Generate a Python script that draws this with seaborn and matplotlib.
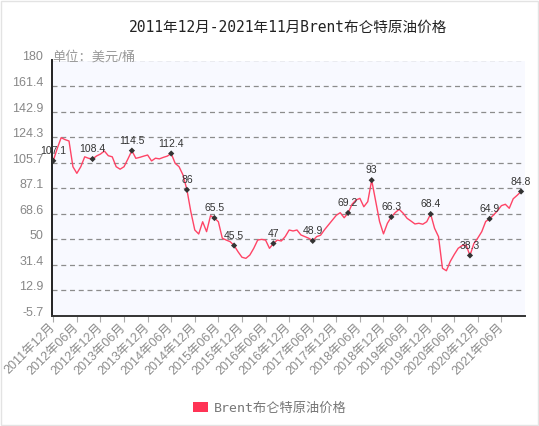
import matplotlib
matplotlib.use("Agg")
import matplotlib.pyplot as plt
from matplotlib.patches import Patch, Rectangle
import numpy as np
import pandas as pd
import seaborn as sns

# %% datos (mensual, 2011-12 .. 2021-11)
precio = [107.1, 116, 123.9, 122.5, 121.5, 102.8, 98, 102.8, 110, 108.9,
          108.4, 110.6, 112, 114.2, 110.8, 110, 102.8, 101, 102.8, 108.5,
          114.5, 108.9, 109.6, 110.5, 111.3, 107, 109, 108.5, 109.6, 110.5,
          112.4, 105.3, 102.8, 96.8, 86, 70, 56.8, 53.9, 62.8, 55.6,
          67.2, 65.5, 62.8, 50.8, 49.5, 48.3, 45.5, 41, 37, 36.2,
          38.6, 43.5, 49.5, 50, 49.5, 43.5, 47, 49.5, 48.8, 52,
          56.8, 56.1, 56.8, 53.2, 52, 50.8, 48.9, 52, 53, 57,
          60.5, 64, 67.5, 69.4, 65.7, 69.2, 75.5, 78.6, 79.8, 73.7,
          77.4, 93, 78, 63, 54, 61.7, 66.3, 69.5, 71.8, 69,
          65.3, 63.3, 61.2, 61.7, 61, 62.8, 68.4, 58, 52, 29,
          27.2, 34, 39, 43.5, 45.5, 45.9, 38.3, 47, 51, 55.6,
          63, 64.9, 67.7, 70.8, 74.5, 75.5, 72.6, 79.5, 82, 84.8]

meses = pd.date_range("2011-12-01", periods=len(precio), freq="MS")
etiquetas_x = [f"{m.year}年{m.month:02d}月" for m in meses[::6]]
puntos_marcados = [0, 10, 20, 30, 34, 41, 46, 56, 66, 75, 81, 86, 96, 106, 111, 119]
ticks_y = [-5.7, 12.9, 31.4, 50, 68.6, 87.1, 105.7, 124.3, 142.9, 161.4, 180]

titulo = "2011年12月-2021年11月Brent布仑特原油价格"
unidad = "单位：美元/桶"
serie = "Brent布仑特原油价格"

df = pd.DataFrame({"i": np.arange(len(precio)), "precio": precio})
df_marcas = df.iloc[puntos_marcados]

# %% grafico
sns.set_style("white")
plt.rcParams["font.family"] = ["Liberation Sans", "Noto Sans CJK SC", "DejaVu Sans"]
fuente_mono = ["DejaVu Sans Mono", "Noto Sans CJK SC"]

fig = plt.figure(figsize=(5.39, 4.26), dpi=100)
ax = fig.add_axes([51.7 / 539, 1 - 316 / 426, (525 - 51.7) / 539, (316 - 60.5) / 426])
ax.set_facecolor("#f8f9ff")

sns.lineplot(data=df, x="i", y="precio", color="#ff4466", linewidth=1.0, ax=ax)
sns.scatterplot(data=df_marcas, x="i", y="precio", color="#333333", marker="D",
                s=10, edgecolor="none", zorder=5, ax=ax)
for _, fila in df_marcas.iterrows():
    ax.annotate(f"{fila['precio']:g}", (fila["i"], fila["precio"]),
                xytext=(0, 3.5), textcoords="offset points", ha="center",
                va="bottom", fontsize=7.5, color="#333333", zorder=6)

ax.set_xlim(-0.4, 120)
ax.set_ylim(-5.7, 180)
ax.set_yticks(ticks_y, labels=[f"{t:g}" for t in ticks_y], va="baseline")
ax.set_xticks(np.arange(0, len(precio), 6), labels=etiquetas_x, rotation=45,
              ha="right", va="center", rotation_mode="anchor")
ax.tick_params(axis="y", length=0, pad=6, labelsize=9, labelcolor="#888888")
ax.tick_params(axis="x", length=4, width=0.8, color="#aaaaaa", pad=3,
               labelsize=9, labelcolor="#8c8c8c", bottom=True)
ax.set_xlabel("")
ax.set_ylabel("")

for t in ticks_y[1:]:
    ax.axhline(t, color="#8c8c8c", linestyle=(0, (4, 3)), linewidth=0.9, zorder=1)

for lado in ["top", "right"]:
    ax.spines[lado].set_visible(False)
ax.spines["left"].set_color("#222222")
ax.spines["left"].set_linewidth(1.4)
ax.spines["bottom"].set_color("#333333")
ax.spines["bottom"].set_linewidth(1.4)

ax.text(0.002, 1.0, unidad, transform=ax.transAxes, fontsize=9.5, color="#999999",
        ha="left", va="baseline")
fig.text(288.5 / 539, 1 - 27 / 426, titulo, ha="center", va="center",
         fontsize=10.5, color="#222222", family=fuente_mono)

fig.legend(handles=[Patch(facecolor="#ff3355", edgecolor="none", label=serie)],
           loc="center", bbox_to_anchor=(0.5, 1 - 408 / 426), frameon=False,
           handlelength=1.2, handleheight=0.7, handletextpad=0.4,
           prop={"family": fuente_mono, "size": 9.5}, labelcolor="#777777")

fig.patches.append(Rectangle((0.002, 0.002), 0.996, 0.996, transform=fig.transFigure,
                             fill=False, edgecolor="#e3e3e3", linewidth=1))

fig.savefig("out.png", dpi=100)
